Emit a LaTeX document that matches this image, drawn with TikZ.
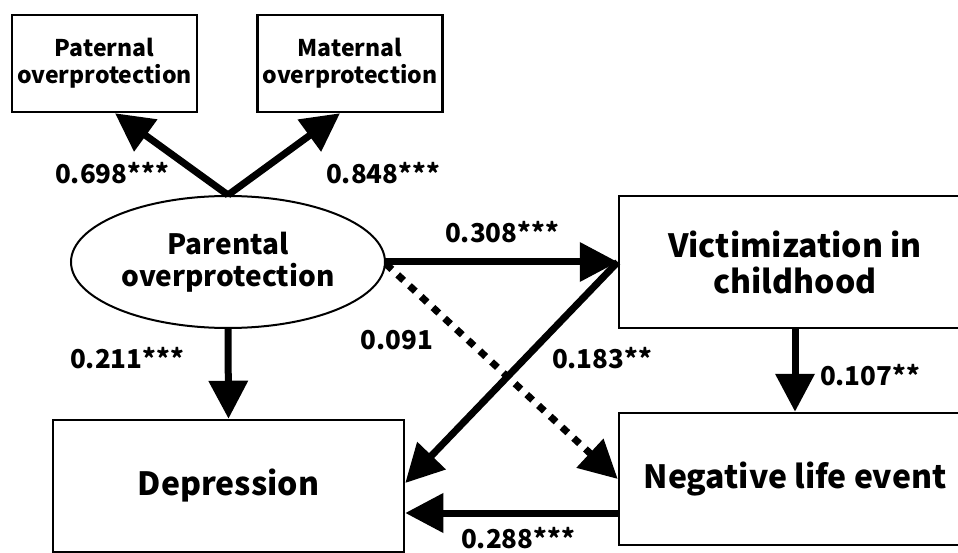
\documentclass[tikz,border=0pt]{standalone}
\usepackage{fontspec}
\setmainfont{Noto Sans CJK JP}
\usetikzlibrary{arrows.meta,calc,shapes.geometric}
\begin{document}
\begin{tikzpicture}[x=1pt,y=-1pt,
  box/.style={draw,line width=2.5pt,rectangle,inner sep=0pt,align=center},
  smallbox/.style={box,minimum width=185pt,minimum height=97pt,font=\fontsize{23}{27}\selectfont\bfseries},
  bigbox/.style={box,minimum width=352pt,minimum height=132pt,font=\fontsize{32}{36}\selectfont\bfseries},
  latent/.style={draw,ellipse,line width=2pt,minimum width=314pt,minimum height=132pt,inner sep=0pt,align=center,font=\fontsize{28}{32}\selectfont\bfseries},
  conn/.style={line width=7pt,-{Triangle[length=38pt,width=38pt]}},
  dotconn/.style={line width=7pt,dash pattern=on 8pt off 8pt,-{Triangle[length=38pt,width=38pt]}},
  lab/.style={font=\fontsize{26}{30}\selectfont\bfseries,inner sep=0pt}]
\useasboundingbox (0,0) rectangle (958,553);
\fill[white] (0,0) rectangle (958,553);
\clip (0,0) rectangle (958,553);
\node[smallbox] (pat) at (104.5,63.5) {Paternal\\overprotection};
\node[smallbox] (mat) at (350,63.5) {Maternal\\overprotection};
\node[latent] (ell) at (228,262) {Parental\\overprotection};
\node[bigbox] (vic) at (795,262) {Victimization in\\childhood};
\node[bigbox] (neg) at (795,479) {Negative life event};
\node[bigbox,minimum width=351pt] (dep) at (228.5,486) {Depression};
\draw[conn] (ell.north) -- ([xshift=10.5pt]pat.south);
\draw[conn] (ell.north) -- ([xshift=-10pt]mat.south);
\draw[conn] (ell.south) -- (dep.north);
\draw[conn] (ell.east) -- (vic.west);
\draw[dotconn] ([yshift=-2pt]ell.east) -- (neg.west);
\draw[conn] (vic.west) -- ([yshift=3pt]dep.east);
\draw[conn] (vic.south) -- (neg.north);
\draw[conn] ([yshift=-34pt]neg.west) -- ([yshift=-27pt]dep.east);
\node[lab] (l1) at (112,173) {0.698***};
\node[lab] (l2) at (383,173) {0.848***};
\node[lab] (l3) at (502,232) {0.308***};
\node[lab] (l4) at (397,340) {0.091};
\node[lab] (l5) at (127,358) {0.211***};
\node[lab] (l6) at (602,358) {0.183**};
\node[lab] (l7) at (870,375) {0.107**};
\node[lab] (l8) at (518,538) {0.288***};
\end{tikzpicture}
\end{document}
